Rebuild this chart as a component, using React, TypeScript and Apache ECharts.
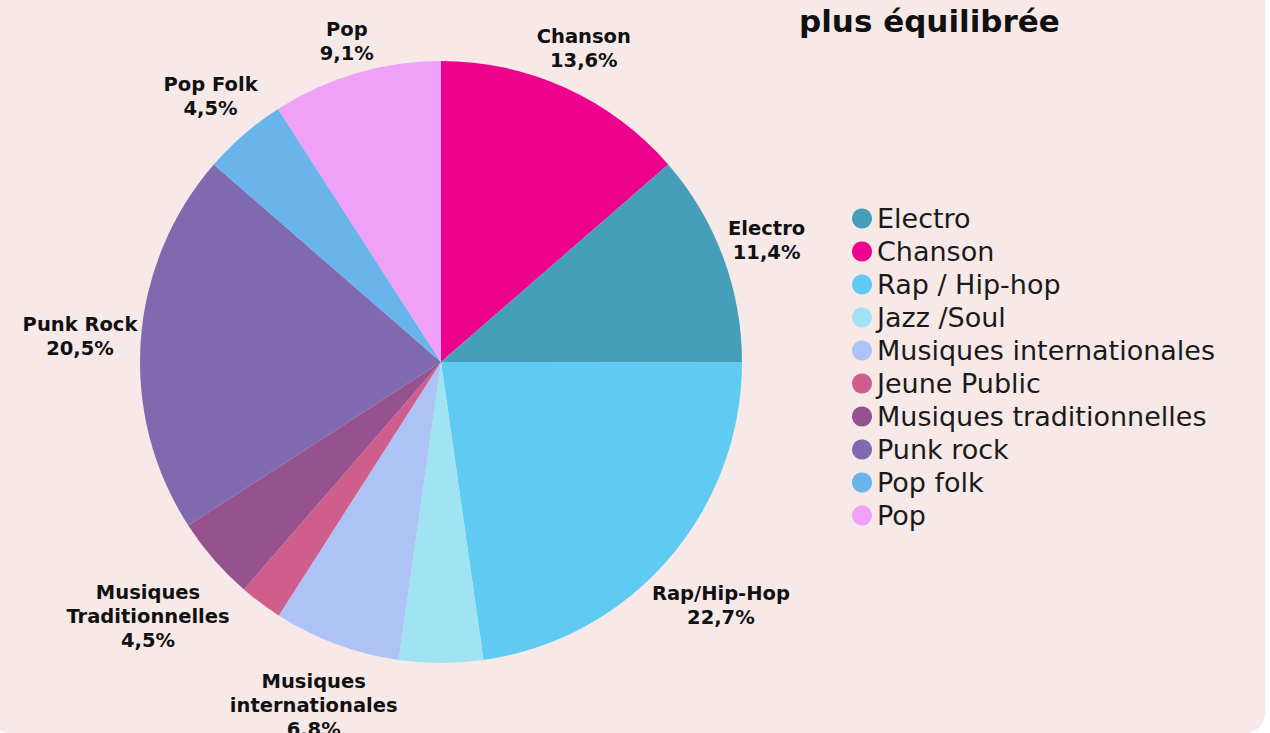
import React, { useEffect, useRef } from "react";
import * as echarts from "echarts";

const titleText = "plus équilibrée";
const categories = [
  "Chanson",
  "Electro",
  "Rap / Hip-hop",
  "Jazz /Soul",
  "Musiques internationales",
  "Jeune Public",
  "Musiques traditionnelles",
  "Punk rock",
  "Pop folk",
  "Pop",
];
const labelNames = [
  "Chanson",
  "Electro",
  "Rap/Hip-Hop",
  "",
  "Musiques\ninternationales",
  "",
  "Musiques\nTraditionnelles",
  "Punk Rock",
  "Pop Folk",
  "Pop",
];
const values = [13.6, 11.4, 22.7, 4.5, 6.8, 2.3, 4.5, 20.5, 4.5, 9.1];
const colors = [
  "#EC008C",
  "#459FBB",
  "#5FCBF2",
  "#A0E3F3",
  "#ADC3F6",
  "#CF5E8C",
  "#96528E",
  "#7F69AF",
  "#69B4EA",
  "#EFA1F8",
];
const legendOrder = [
  "Electro",
  "Chanson",
  "Rap / Hip-hop",
  "Jazz /Soul",
  "Musiques internationales",
  "Jeune Public",
  "Musiques traditionnelles",
  "Punk rock",
  "Pop folk",
  "Pop",
];

const OFFX = 10;
const OFFY = 20;
const CX = 441 + OFFX;
const CY = 362 + OFFY;
const R = 301;

export default function App() {
  const ref = useRef<HTMLDivElement>(null);
  useEffect(() => {
    if (!ref.current) return;
    const chart = echarts.init(ref.current, null, { renderer: "svg" });
    const total = values.reduce((a, b) => a + b, 0);
    const cum: number[] = [];
    let acc = 0;
    values.forEach((v) => {
      cum.push(acc + v / 2);
      acc += v;
    });
    chart.setOption({
      animation: false,
      backgroundColor: "transparent",
      title: {
        text: titleText,
        left: 794 + OFFX,
        top: 0 + OFFY,
        textStyle: {
          fontFamily: "DejaVu Sans",
          fontWeight: "bold",
          fontSize: 31,
          color: "#111",
        },
      },
      legend: {
        orient: "vertical",
        left: 847 + OFFX,
        top: 200 + OFFY,
        icon: "circle",
        itemWidth: 20,
        itemHeight: 20,
        itemGap: 6,
        data: legendOrder,
        textStyle: {
          fontFamily: "DejaVu Sans",
          fontSize: 27,
          lineHeight: 26,
          color: "#1a1a1a",
          padding: [0, 0, 0, 0],
        },
      },
      series: [
        {
          type: "pie",
          center: [CX, CY],
          radius: [0, R],
          startAngle: 90,
          clockwise: true,
          avoidLabelOverlap: false,
          labelLine: { show: false },
          label: {
            show: true,
            position: "outside",
            fontFamily: "DejaVu Sans",
            fontWeight: "bold",
            fontSize: 19.5,
            lineHeight: 24,
            color: "#111",
            align: "center",
            formatter: (p: any) =>
              labelNames[p.dataIndex] +
              "\n" +
              values[p.dataIndex].toFixed(1).replace(".", ",") +
              "%",
          },
          labelLayout: (params: any) => {
            const i = params.dataIndex;
            const ang = ((90 - (cum[i] / total) * 360) * Math.PI) / 180;
            const ux = Math.cos(ang);
            const uy = -Math.sin(ang);
            const w = params.labelRect.width;
            const h = params.labelRect.height;
            const s = Math.abs(ux) * (w / 2) + Math.abs(uy) * (h / 2);
            const d = R + 2 + s;
            return {
              x: CX + ux * d,
              y: CY + uy * d,
              align: "center",
              verticalAlign: "middle",
            };
          },
          data: categories.map((c, i) => ({
            name: c,
            value: values[i],
            itemStyle: { color: colors[i] },
            label: { show: labelNames[i] !== "" },
          })),
        },
      ],
    });
    return () => chart.dispose();
  }, []);
  return (
    <div
      ref={ref}
      style={{
        position: "absolute",
        left: -OFFX,
        top: -OFFY,
        width: 1265 + OFFX,
        height: 733 + OFFY,
        borderRadius: 20,
        background: "#F7E9E8",
        overflow: "hidden",
      }}
    />
  );
}
